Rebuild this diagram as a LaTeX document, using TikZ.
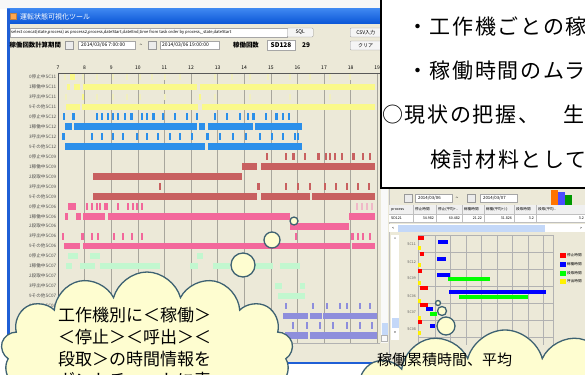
\documentclass[tikz,border=0pt]{standalone}
\usepackage{fontspec}
\newfontfamily\jp{Noto Sans CJK JP}
\usetikzlibrary{shapes.symbols}
\definecolor{cBeige}{HTML}{ECE9D8}
\definecolor{cT1}{HTML}{3D86F0}
\definecolor{cT2}{HTML}{0A55D6}
\definecolor{cBorder}{HTML}{1F5FD6}
\definecolor{cY}{HTML}{FAF98A}
\definecolor{cYf}{HTML}{F1EFC0}
\definecolor{cB}{HTML}{2B8FEA}
\definecolor{cR}{HTML}{C86060}
\definecolor{cP}{HTML}{F3679B}
\definecolor{cPf}{HTML}{EFB8C8}
\definecolor{cG}{HTML}{C2F7CF}
\definecolor{cV}{HTML}{8E8EDC}
\definecolor{cGrid}{HTML}{A8A69C}
\definecolor{cCloud}{HTML}{FEFDD0}
\definecolor{cEdge}{HTML}{3E6272}
\definecolor{cLbl}{HTML}{505050}
\definecolor{cThumb}{HTML}{C4D8F8}
\newcommand\gbar[3]{\pgfmathsetmacro\ry{77+9.95*#1}\foreach \a/\b in {#3}{\fill[#2] (\a,\ry-3.3) rectangle (\b,\ry+3.3);}}
\newcommand\gtick[3]{\pgfmathsetmacro\ry{77+9.95*#1}\foreach \a in {#3}{\fill[#2] (\a-0.6,\ry-3.3) rectangle (\a+0.6,\ry+3.3);}}
\newcommand\rbar[4]{\fill[#1] (#2,#4-2) rectangle (#3,#4+2);}
\begin{document}
\begin{tikzpicture}[x=1pt,y=-1pt,font=\jp,
  field/.style={draw=gray!70,fill=white,inner sep=0pt,anchor=west},
  btn/.style={draw=gray!80,fill=gray!8,rounded corners=1pt,inner sep=0pt,anchor=west},
  tiny/.style={font=\jp\fontsize{4.3}{4.3}\selectfont,inner sep=0pt},
  small/.style={font=\jp\fontsize{5}{5}\selectfont,inner sep=0pt},
  lbl/.style={font=\jp\fontsize{4.6}{4.6}\selectfont,text=cLbl,inner sep=0pt,anchor=east},
  gridl/.style={draw=cGrid,line width=0.6pt},
  cal/.style={draw=gray!80,fill=gray!15,minimum width=8pt,minimum height=8pt,inner sep=0pt},
  cloudy/.style={draw=cEdge,line width=1.3pt,fill=cCloud},
  big/.style={font=\jp\fontsize{21}{21}\selectfont\addfontfeatures{LetterSpace=8},inner sep=0pt,anchor=west},
  ctext/.style={font=\jp\fontsize{17}{17}\selectfont,inner sep=0pt,anchor=west},
  rtab/.style={font=\jp\fontsize{3.6}{3.6}\selectfont,inner sep=0pt}]
\useasboundingbox (0,0) rectangle (585,374);
\fill[white] (0,0) rectangle (585,374);
\fill[gray!6] (0,0) rectangle (585,9);
% ---------------- left window
\fill[cBeige] (7,9) rectangle (390,364);
\shade[top color=cT1,bottom color=cT2] (7,9) rectangle (390,24);
\fill[cBorder] (7,9) rectangle (9.5,364);
\fill[cBorder] (7,361.5) rectangle (390,364);
\node[fill=orange!70,draw=brown,minimum size=6pt,inner sep=0pt] (ticon) at (13.5,16.5) {};
\node[anchor=west,text=white,font=\jp\fontsize{7}{7}\selectfont,inner sep=0pt] (title) at (20,16.5) {運転状態可視化ツール};
% row 1
\node[field,minimum width=277pt,minimum height=9pt] (sqlf) at (9.5,32.5) {};
\node[tiny,anchor=west,font=\jp\fontsize{4.1}{4.1}\selectfont] (sqlt) at (11,32.5) {select concat(state,process) as process2,process,dateStart,dateEnd,time from task order by process,\_state,dateStart};
\node[btn,minimum width=26pt,minimum height=9pt,small] (sqlb) at (287,32.5) {SQL};
\node[btn,minimum width=31pt,minimum height=9pt,small] (csvb) at (350,32.5) {CSV入力};
% row 2
\node[anchor=west,font=\jp\bfseries\fontsize{6.4}{6.4}\selectfont,inner sep=0pt] (plbl) at (9.5,45) {稼働回数計算期間};
\node[cal] (cal1) at (69.5,45) {};
\node[field,minimum width=57pt,minimum height=8.5pt] (d1) at (78,45) {};
\node[small,anchor=west] (d1t) at (81,45) {2014/03/06 7:00:00};
\node[small] (tilde) at (141,45) {\textasciitilde};
\node[cal] (cal2) at (152.5,45) {};
\node[field,minimum width=59pt,minimum height=8.5pt] (d2) at (159.5,45) {};
\node[small,anchor=west] (d2t) at (162,45) {2014/03/06 19:00:00};
\node[anchor=west,font=\jp\bfseries\fontsize{6.4}{6.4}\selectfont,inner sep=0pt] (klbl) at (233,45) {稼働回数};
\node[field,minimum width=28pt,minimum height=10pt] (sdf) at (267,45) {};
\node[anchor=center,font=\jp\bfseries\fontsize{6.5}{6.5}\selectfont,inner sep=0pt] (sdt) at (281,45) {SD128};
\node[anchor=west,font=\jp\bfseries\fontsize{6.5}{6.5}\selectfont,inner sep=0pt] (n29) at (302,45) {29};
\node[btn,minimum width=31pt,minimum height=9pt,small] (clr) at (350,45.5) {クリア};
% chart
\foreach \h [count=\k from 0] in {7,...,19}{
  \pgfmathsetmacro\hx{58+26.6*\k}
  \node[small] (hr\h) at (\hx,68) {\h};
  \draw[gridl] (\hx,73) -- (\hx,343);
}
\draw[gray!70!black,line width=0.6pt] (58,73) -- (380,73);
\draw[gray!70!black,line width=0.6pt] (58,73) -- (58,343);
\draw[gray!60,line width=0.5pt] (9.5,343) -- (380,343);
\foreach \t [count=\i from 0] in {0停止中SC11,1稼働中SC11,3呼出中SC11,9その他SC11,0停止中SC12,1稼働中SC12,3呼出中SC12,9その他SC12,0停止中SC09,1稼働中SC09,2段取中SC09,3呼出中SC09,9その他SC09,0停止中SC06,1稼働中SC06,2段取中SC06,3呼出中SC06,9その他SC06,0停止中SC07,1稼働中SC07,2段取中SC07,3呼出中SC07,9その他SC07,0停止中SC08,1稼働中SC08,3呼出中SC08,9その他SC08}{
  \pgfmathsetmacro\ry{77+9.95*\i}
  \node[lbl] (lb\i) at (56.5,\ry) {\t};
}
% yellow
\gtick{0}{cYf}{65,83,97,113,127,140,152,165,180,215,232,250,268,290,310,330,350}
\gbar{0}{cY}{70/75}
\gbar{1}{cY}{67/70,74/80,83/197,200/375}
\gtick{2}{cYf}{66,97,113,127,140,165,215,250,290,330}
\gtick{2}{cY}{83,200}
\gbar{3}{cY}{66/80,82/198,202/375}
% blue
\gtick{4}{cB}{64,97,102,108,113,118,125,142,147,163,175,187,197,215,227,240,248,266,283,289}
\gbar{4}{cB}{72/75,130/133,152/155,252/255,275/278}
\gbar{5}{cB}{65/72,74/197,199/205,208/253,255/302}
\gtick{6}{cB}{92,102,113,123,137,147,158,170,180,192,220,233,246,260,272,283,295,298}
\gbar{6}{cB}{62/64.5,206/209}
\gbar{7}{cB}{65/205,208/302}
% red
\gtick{8}{cR}{267,286,305,326,330,335,342,363,370}
\gbar{8}{cR}{292/294.5,317/319.5,352/354.5}
\gbar{9}{cR}{242/257,261/375}
\gbar{10}{cR}{93/242}
\gtick{11}{cR}{160,286,298,310,325,336,347,358,369}
\gbar{11}{cR}{257/260}
\gbar{12}{cR}{93/257,261/310,312/375}
% pink
\gtick{13}{cP}{87,92,97,100,118,128,133,137,142}
\gtick{13}{cPf}{357,362,367,372}
\gbar{13}{cP}{68/76,104/108}
\gbar{14}{cP}{65/68,76/81,83/105,108/290,349/375}
\gbar{15}{cP}{290/349}
\gtick{16}{cP}{63,92,98,123,132,142,296,358,363,370}
\gbar{16}{cP}{81/83.5,113/115,351/353.5}
\gbar{17}{cP}{64/80,83/350,352/375}
% green
\gbar{18}{cG}{68/78,90/100,197/203}
\gbar{19}{cG}{66/72,80/95,100/160,190/198,213/230,242/273,280/300}
\gbar{21}{cG}{275/282,300/305}
\gbar{22}{cG}{278/305}
% purple
\gtick{23}{cV}{286,313,327,340,347,360,370}
\gbar{24}{cV}{283/308,310/322,323/377}
\gtick{25}{cV}{293,307,320,333,347,360,372}
\gbar{26}{cV}{285/308,310/377}
% left window scrollbar
\fill[gray!5] (381,188) rectangle (388,343);
\fill[cThumb] (381.5,323) rectangle (387.5,335);
\draw[gray!60] (381.5,335) rectangle (387.5,341);
% ---------------- text box
\fill[white] (381,-2) rectangle (590,188);
\draw[black,line width=1.2pt] (381,-2) -- (381,188) -- (590,188);
\node[big] (tb1) at (407,27) {・工作機ごとの稼};
\node[big] (tb2) at (407,71) {・稼働時間のムラ};
\node[big] (tb3) at (382,115) {○現状の把握、　生};
\node[big] (tb4) at (430,160) {検討材料として};
% ---------------- right screenshot
\fill[cBeige] (389,189) rectangle (590,380);
\draw[gray!50] (389,189) -- (389,380);
\node[cal] (rcal1) at (408,198) {};
\node[field,minimum width=37pt,minimum height=8pt] (rd1) at (415,198) {};
\node[tiny,anchor=west] (rd1t) at (418,198) {2014/03/06};
\node[small] (rtil) at (457,198) {\textasciitilde};
\node[cal] (rcal2) at (471.5,198) {};
\node[field,minimum width=37pt,minimum height=8pt] (rd2) at (480,198) {};
\node[tiny,anchor=west] (rd2t) at (483,198) {2014/03/07};
\fill[orange!90!red] (551,190) rectangle (558,206);
\fill[blue!70] (558,192) rectangle (565,206);
\fill[green!60!black] (565,195) rectangle (572,206);
% table
\fill[gray!12] (389,205) rectangle (590,214);
\fill[white] (389,214) rectangle (590,222);
\foreach \cx in {413,436,462,484,514,536}{\draw[gray!50,line width=0.4pt] (\cx,205) -- (\cx,222);}
\draw[gray!50,line width=0.4pt] (389,214) -- (590,214) (389,222) -- (590,222);
\node[rtab,anchor=west] (h1) at (391,209.5) {process};
\node[rtab,anchor=west] (h2) at (415,209.5) {停止時間};
\node[rtab,anchor=west] (h3) at (438,209.5) {停止(平均+..};
\node[rtab,anchor=west] (h4) at (464,209.5) {稼働時間};
\node[rtab,anchor=west] (h5) at (486,209.5) {稼働(平均+/-)};
\node[rtab,anchor=west] (h6) at (516,209.5) {段取時間};
\node[rtab,anchor=west] (h7) at (538,209.5) {段取(平均..};
\node[rtab,anchor=west] (v1) at (391,218) {SD121};
\node[rtab,anchor=east] (v2) at (434,218) {34.982};
\node[rtab,anchor=east] (v3) at (460,218) {60.482};
\node[rtab,anchor=east] (v4) at (482,218) {21.22};
\node[rtab,anchor=east] (v5) at (512,218) {31.826};
\node[rtab,anchor=east] (v6) at (534,218) {3.2};
\node[rtab,anchor=east] (v7) at (584,218) {3.2};
% h scrollbar
\fill[white] (389,224) rectangle (590,232);
\fill[cThumb] (398,224.5) rectangle (545,231.5);
\node[rtab] (la) at (393,228) {<};
\node[rtab] (ra) at (581,228) {>};
% v scrollbar
\fill[white] (391,235) rectangle (399,340);
\fill[cThumb] (391.5,318) rectangle (398.5,328);
\node[rtab] (ua) at (395,239) {\^{}};
\node[rtab] (da) at (395,333) {v};
% grid
\foreach \gx in {418,435,450,466,481,497,512,528,543,553}{\draw[gray!60,line width=0.5pt] (\gx,235) -- (\gx,345);}
\foreach \gy in {235,252,269,286,303,320,337}{\draw[gray!60,line width=0.5pt] (418,\gy) -- (553,\gy);}
\foreach \s/\yy in {SC11/244,SC12/262,SC09/278,SC06/296,SC07/312,SC08/329}{\node[rtab,anchor=east,text=gray!70!black] (rl\s) at (416,\yy) {\s};}
\rbar{red}{418}{424}{237.5}\rbar{blue}{438}{448}{242}\rbar{yellow}{418}{421}{248}
\rbar{red}{420}{424}{254}\rbar{blue}{437}{446}{259}\rbar{yellow}{418}{421}{265}
\rbar{red}{418}{422}{271}\rbar{blue}{437}{450}{275}\rbar{green}{448}{490}{279}\rbar{yellow}{418}{421}{283}
\rbar{red}{420}{428}{288}\rbar{blue}{449}{546}{292}\rbar{green}{459}{528}{297}\rbar{yellow}{418}{421}{300.5}
\rbar{red}{420}{428}{305}\rbar{blue}{426}{433}{309}\rbar{green}{430}{437}{314}\rbar{yellow}{418}{421}{318}
\rbar{red}{418}{422}{322}\rbar{blue}{430}{435}{326}\rbar{yellow}{418}{421}{333}
% legend
\foreach \c/\t/\yy in {red/停止時間/255.5,blue/稼働時間/264,green/段取時間/273,yellow/呼出時間/281.5}{
  \fill[\c] (560,\yy-2.5) rectangle (565.5,\yy+2.5);
  \node[rtab,anchor=west] (lg\c) at (567,\yy) {\t};
}
% ---------------- clouds
\node[cloud,cloud puffs=13,aspect=2,cloudy,minimum width=292pt,minimum height=160pt] (cl1) at (147,352) {};
\node[circle,cloudy,minimum size=24pt,inner sep=0pt] (b1) at (243,265) {};
\node[circle,cloudy,minimum size=16pt,inner sep=0pt] (b2) at (272,240) {};
\node[circle,cloudy,minimum size=8pt,inner sep=0pt] (b3) at (294,221) {};
\node[ctext] (c1) at (58,315) {工作機別に＜稼働＞};
\node[ctext] (c2) at (58,337) {＜停止＞＜呼出＞＜};
\node[ctext] (c3) at (58,359) {段取＞の時間情報を};
\node[ctext] (c4) at (58,380) {ガントチャートに表};
\node[cloud,cloud puffs=13,aspect=2,cloudy,minimum width=320pt,minimum height=150pt] (cl2) at (505,405) {};
\node[circle,cloudy,minimum size=18pt,inner sep=0pt] (b4) at (446,326) {};
\node[circle,cloudy,minimum size=9pt,inner sep=0pt] (b5) at (442,311) {};
\node[circle,cloudy,minimum size=5pt,inner sep=0pt] (b6) at (438,303) {};
\node[font=\jp\fontsize{15}{15}\selectfont,inner sep=0pt,anchor=west] (c5) at (377,360) {稼働累積時間、平均};
\end{tikzpicture}
\end{document}
